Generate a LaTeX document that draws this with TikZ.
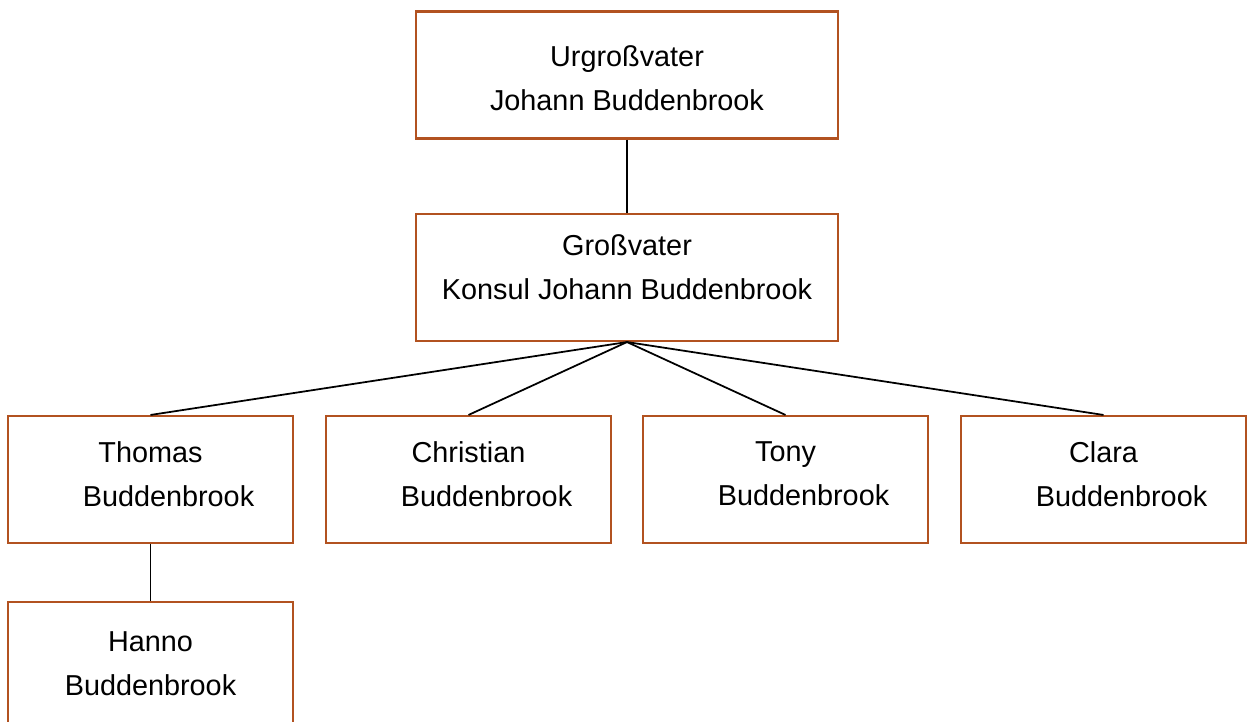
\documentclass[tikz,border=0pt]{standalone}
\usepackage{fontspec}
\setmainfont{Liberation Sans}
\definecolor{boxbrown}{RGB}{178,82,32}
\tikzset{
  person/.style={draw=boxbrown, line width=1.2pt, inner sep=0pt, minimum height=2.54cm},
  wide/.style={person, minimum width=8.44cm},
  narrow/.style={person, minimum width=5.7cm},
  persontext/.style={align=center, inner sep=0pt, font=\fontsize{16.4pt}{25pt}\selectfont},
  link/.style={line width=1pt}
}

\begin{document}
\begin{tikzpicture}[x=0.02cm, y=-0.02cm]
      \useasboundingbox (0, 0) rectangle (1247, 721);
      \clip (0, 0) rectangle (1247, 721);

      \node[wide] (urg) at (627, 75) {};
      \node[wide] (grv) at (627, 277.5) {};
      \node[narrow] (thomas) at (150.5, 479.5) {};
      \node[narrow] (christian) at (468.5, 479.5) {};
      \node[narrow] (tony) at (785.5, 479.5) {};
      \node[narrow] (clara) at (1103.5, 479.5) {};
      \node[narrow] (hanno) at (150.5, 665.5) {};

      \node[persontext] (urgtext) at (627, 78) {Urgroßvater\\Johann Buddenbrook};
      \node[persontext] (grvtext) at (627, 267.5) {Großvater\\Konsul Johann Buddenbrook};
      \node[persontext] (thomastext) at (150.5, 474) {Thomas\\\hspace*{0.72cm}Buddenbrook};
      \node[persontext] (christiantext) at (468.5, 474) {Christian\\\hspace*{0.72cm}Buddenbrook};
      \node[persontext] (tonytext) at (785.5, 474) {Tony\\\hspace*{0.72cm}Buddenbrook};
      \node[persontext] (claratext) at (1103.5, 474) {Clara\\\hspace*{0.72cm}Buddenbrook};
      \node[persontext] (hannotext) at (150.5, 664) {Hanno\\Buddenbrook};

      \draw[link] (urg.south) -- (grv.north);
      \draw[link] (grv.south) -- (thomas.north);
      \draw[link] (grv.south) -- (christian.north);
      \draw[link] (grv.south) -- (tony.north);
      \draw[link] (grv.south) -- (clara.north);
      \draw[link] (thomas.south) -- (hanno.north);
    \end{tikzpicture}
\end{document}
